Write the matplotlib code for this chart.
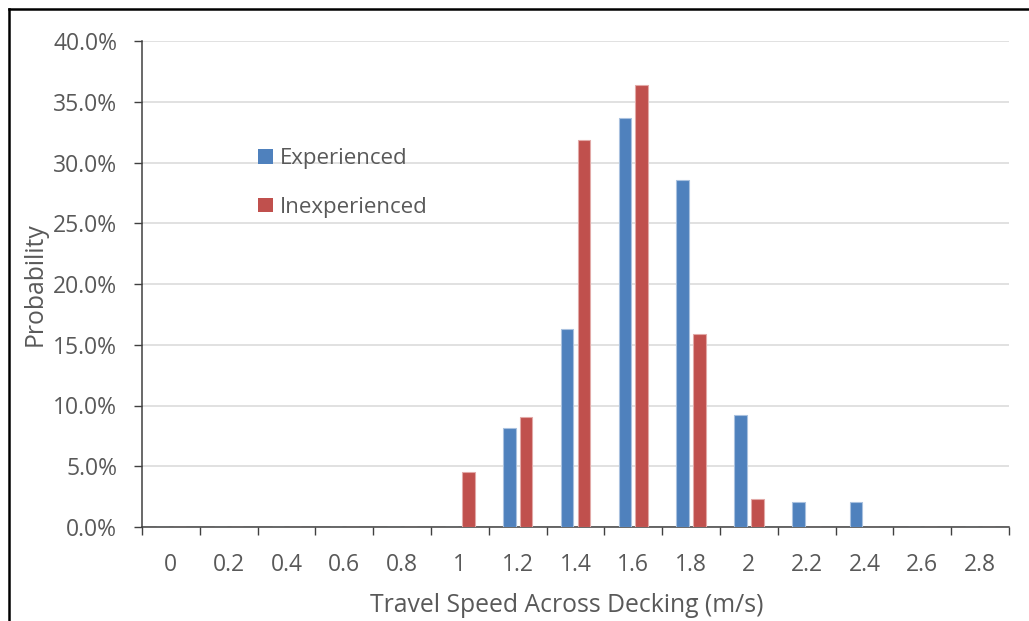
import matplotlib
matplotlib.use("Agg")
import matplotlib.pyplot as plt
from matplotlib.lines import Line2D
from matplotlib.patches import Patch
from matplotlib.ticker import FuncFormatter, FixedLocator
import numpy as np

plt.rcParams['font.family'] = ['Open Sans', 'DejaVu Sans']

speeds = ["0", "0.2", "0.4", "0.6", "0.8", "1", "1.2", "1.4", "1.6", "1.8",
          "2", "2.2", "2.4", "2.6", "2.8"]
experienced = [0, 0, 0, 0, 0, 0, 8.16, 16.33, 33.67, 28.57, 9.18, 2.04, 2.04, 0, 0]
inexperienced = [0, 0, 0, 0, 0, 4.55, 9.09, 31.82, 36.36, 15.91, 2.27, 0, 0, 0, 0]
y_ticks = [0, 5, 10, 15, 20, 25, 30, 35, 40]

blue = "#4F81BD"
red = "#C0504D"
text_col = "#595959"
axis_col = "#404040"

W, H = 1029, 621
fig = plt.figure(figsize=(W / 100, H / 100), dpi=100)
ax = fig.add_axes([142 / W, 1 - 527 / H, (1009 - 142) / W, (527 - 41) / H])

x = np.arange(len(speeds))
bw = 0.22
off = 0.145
ax.bar(x - off, experienced, width=bw, color=blue, edgecolor="#a9c1df",
       linewidth=0.8, zorder=3, label="Experienced")
ax.bar(x + off, inexperienced, width=bw, color=red, edgecolor="#e2a9a7",
       linewidth=0.8, zorder=3, label="Inexperienced")

ax.set_xlim(-0.5, len(speeds) - 0.5)
ax.set_ylim(0, 40)

# y axis
ax.yaxis.set_major_locator(FixedLocator(y_ticks))
ax.yaxis.set_major_formatter(FuncFormatter(lambda v, p: f"{v:.1f}%"))
ax.grid(axis="y", color="#d9d9d9", linewidth=1.1, zorder=0)
ax.tick_params(axis="y", direction="out", length=6, width=1.0, color=axis_col,
               labelsize=16.5, labelcolor=text_col, pad=12)

# x axis: labels at category centres, ticks on category boundaries
ax.set_xticks(x)
ax.set_xticklabels(speeds)
ax.set_xticks(np.arange(len(speeds) + 1) - 0.5, minor=True)
ax.tick_params(axis="x", which="major", length=0, labelsize=16.5,
               labelcolor=text_col, pad=19)
ax.tick_params(axis="x", which="minor", direction="out", length=6, width=1.0,
               color=axis_col)

for side in ("top", "right"):
    ax.spines[side].set_visible(False)
for side in ("left", "bottom"):
    ax.spines[side].set_color(axis_col)
    ax.spines[side].set_linewidth(1.1)

ax.set_xlabel("Travel Speed Across Decking (m/s)", fontsize=17.8,
              color=text_col, labelpad=9)
ax.xaxis.set_label_coords(0.49, -0.135)
ax.set_ylabel("Probability", fontsize=17.8, color=text_col, labelpad=4)

handles = [Patch(facecolor=blue, edgecolor="none"),
           Patch(facecolor=red, edgecolor="none")]
leg = fig.legend(handles, ["Experienced", "Inexperienced"],
                 loc="upper left", bbox_to_anchor=(247 / W, 1 - 137 / H),
                 frameon=False, fontsize=16, handlelength=0.65,
                 handleheight=0.65, handletextpad=0.35, labelspacing=1.25,
                 borderpad=0.0)
for t in leg.get_texts():
    t.set_color(text_col)

# outer frame (top and left edges)
fig.add_artist(Line2D([9 / W, 9 / W], [0, 1 - 9 / H], color="black",
                      linewidth=1.8, transform=fig.transFigure))
fig.add_artist(Line2D([9 / W, 1], [1 - 9 / H, 1 - 9 / H], color="black",
                      linewidth=1.8, transform=fig.transFigure))

fig.savefig("out.png", dpi=100, facecolor="white")
